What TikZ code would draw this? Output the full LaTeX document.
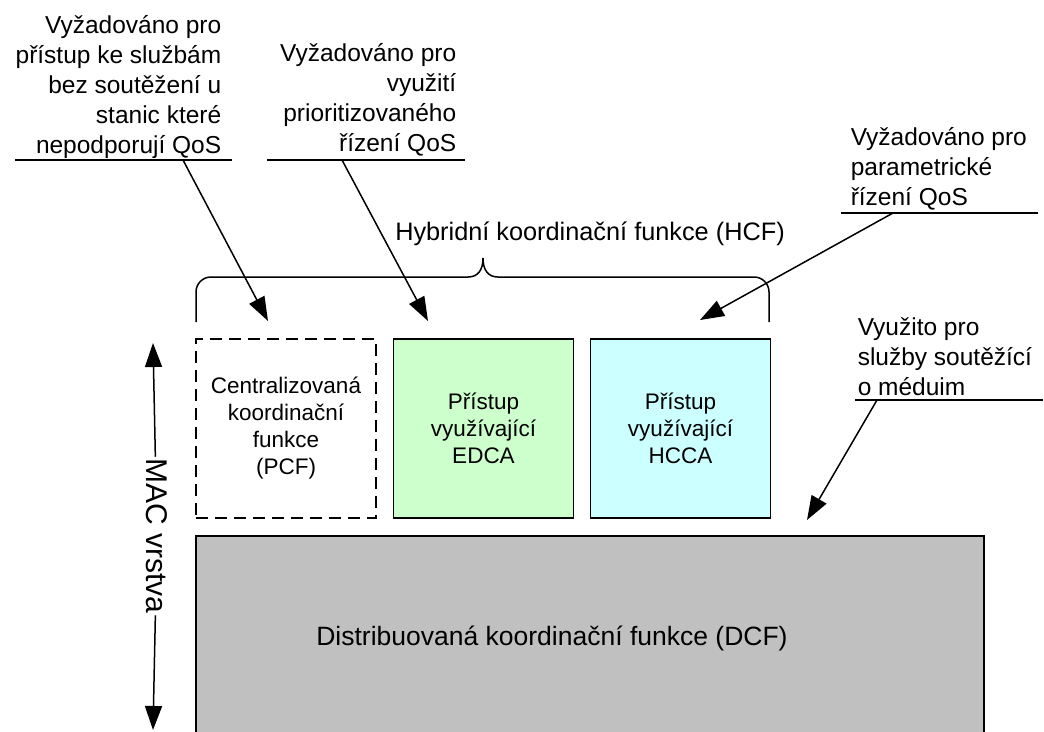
\documentclass[tikz,border=0pt]{standalone}
\usepackage{fontspec}
\setmainfont{Liberation Sans}
\usetikzlibrary{arrows.meta}
\definecolor{edcagreen}{HTML}{CCFFCC}
\definecolor{hccacyan}{HTML}{CCFFFF}
\definecolor{dcfgray}{HTML}{C0C0C0}
\begin{document}
\begin{tikzpicture}[x=1pt,y=-1pt,
  line width=1.5pt,
  arr/.style={-{Triangle[length=24pt,width=17pt]}},
  note/.style={inner sep=0pt,font=\fontsize{24.5}{30}\selectfont},
  boxtext/.style={inner sep=0pt,font=\fontsize{22.5}{27}\selectfont,align=center,
    minimum width=180pt,minimum height=179pt,draw,line width=1.5pt},
]
\useasboundingbox (0,0) rectangle (1044,731);

% distributed coordination function (base layer)
\filldraw[fill=dcfgray] (196,536) rectangle (984,760);
\node[inner sep=0pt,font=\fontsize{26.5}{32}\selectfont,anchor=base] (dcf) at (552,645)
  {Distribuovaná koordinační funkce (DCF)};

% upper blocks
\node[boxtext,dash pattern=on 12pt off 7pt] (pcf) at (286,428.5)
  {Centralizovaná\\koordinační\\funkce\\(PCF)};
\node[boxtext,fill=edcagreen] (edca) at (483.5,428.5)
  {Přístup\\využívající\\EDCA};
\node[boxtext,fill=hccacyan] (hcca) at (680.5,428.5)
  {Přístup\\využívající\\HCCA};

% hybrid coordination function brace
\draw (196,322) -- (196,292) .. controls (196,283.7) and (202.7,277) .. (211,277)
  -- (468,277) .. controls (478,277) and (483,270) .. (483,258)
  .. controls (483,270) and (488,277) .. (498,277)
  -- (754,277) .. controls (762.3,277) and (769,283.7) .. (769,292) -- (769,322);
\node[inner sep=0pt,font=\fontsize{25.3}{30}\selectfont,anchor=base] (hcf) at (590,240)
  {Hybridní koordinační funkce (HCF)};

% MAC layer axis
\node[inner sep=1pt,rotate=-90,font=\fontsize{30}{34}\selectfont,fill=white] (mac) at (157,536)
  {MAC vrstva};
\coordinate (mactop) at (153,343);
\coordinate (macbot) at (153,730);
\draw[arr] (mac) -- (mactop);
\draw[arr] (mac) -- (macbot);

% annotations (anchored on the baseline of their last line)
\node[note,align=right,anchor=base east] (n1) at (222,153)
  {Vyžadováno pro\\přístup ke službám\\bez soutěžení u\\stanic které\\nepodporují QoS};
\draw (15,160) coordinate (u1a) -- (232,160) coordinate (u1b);
\coordinate (s1) at (183,160);
\coordinate (t1) at (268,321);
\draw[arr] (s1) -- (t1);

\node[note,align=right,anchor=base east] (n2) at (457,151)
  {Vyžadováno pro\\využití\\prioritizovaného\\řízení QoS};
\draw (267,160) coordinate (u2a) -- (465,160) coordinate (u2b);
\coordinate (s2) at (342,160);
\coordinate (t2) at (428,321);
\draw[arr] (s2) -- (t2);

\node[note,align=left,anchor=base west] (n3) at (850,205)
  {Vyžadováno pro\\parametrické\\řízení QoS};
\draw (841,213) coordinate (u3a) -- (1038,213) coordinate (u3b);
\coordinate (s3) at (893,213);
\coordinate (t3) at (700,320);
\draw[arr] (s3) -- (t3);

\node[note,align=left,anchor=base west] (n4) at (857,395)
  {Využito pro\\služby soutěžící\\o méduim};
\draw (855,400) coordinate (u4a) -- (1043,400) coordinate (u4b);
\coordinate (s4) at (877,400);
\coordinate (t4) at (807,520);
\draw[arr] (s4) -- (t4);
\end{tikzpicture}
\end{document}
